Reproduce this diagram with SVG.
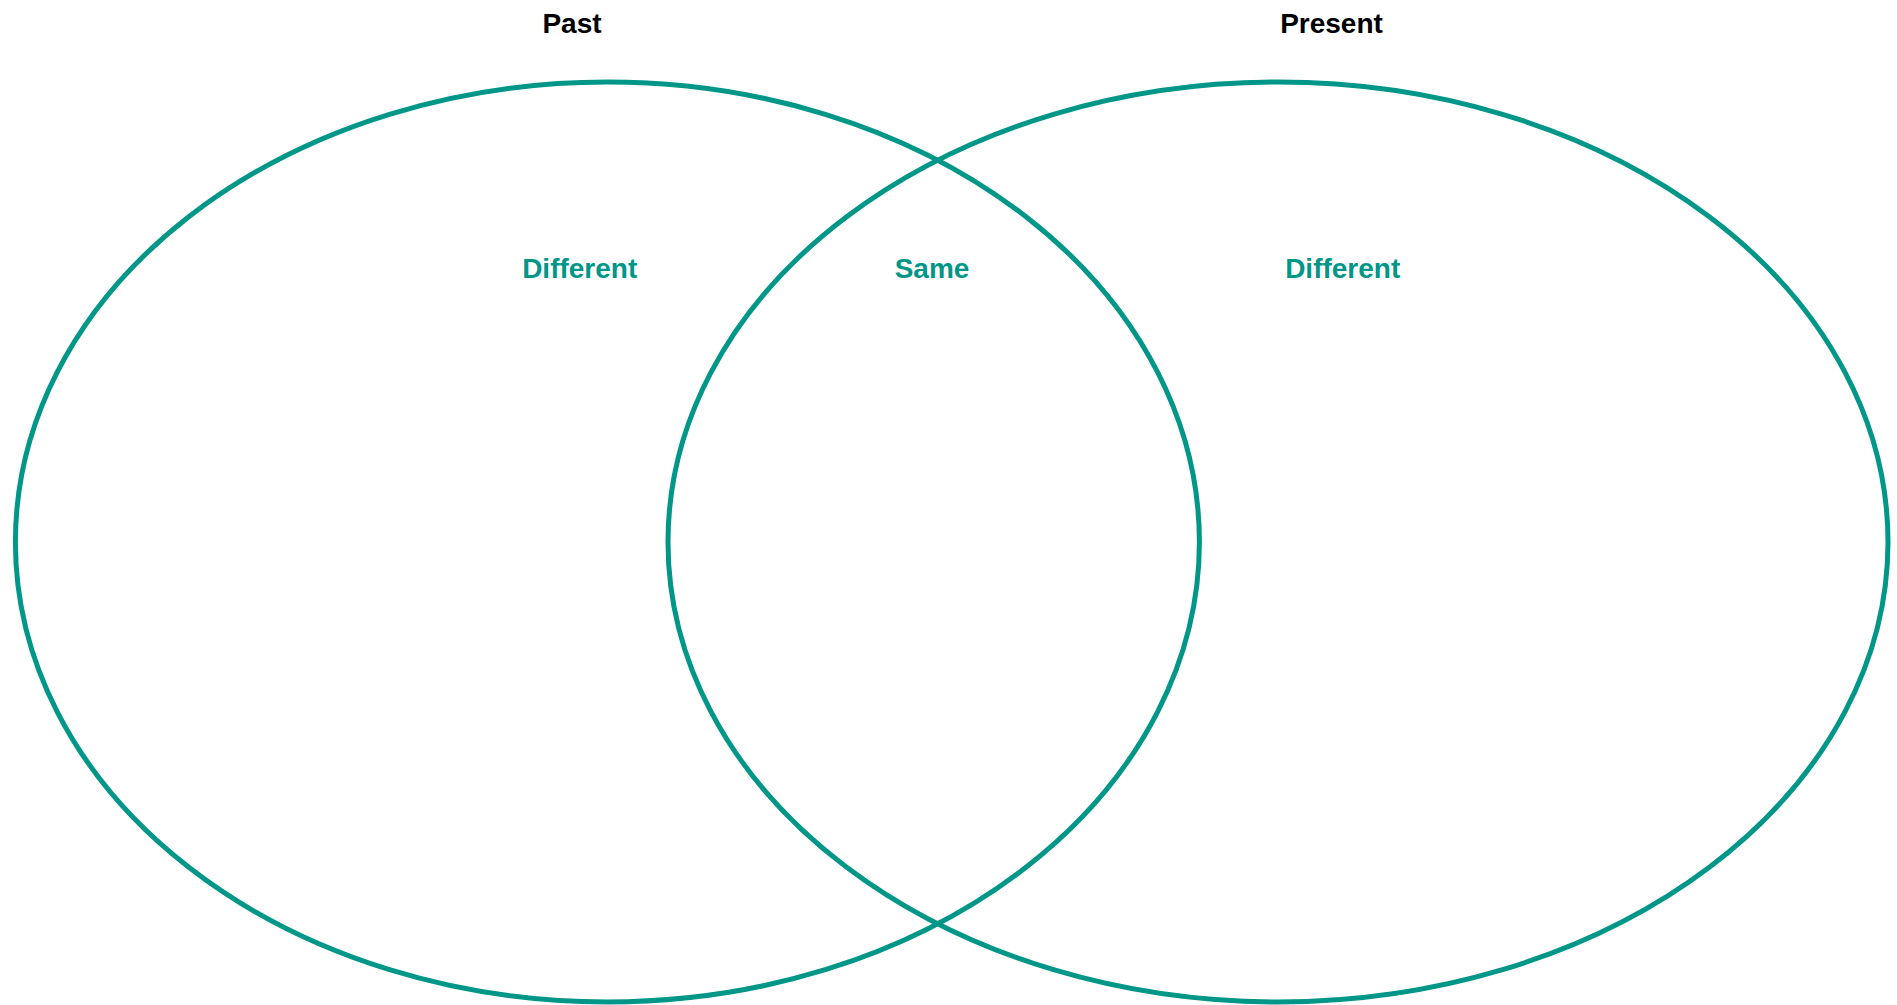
<svg xmlns="http://www.w3.org/2000/svg" width="1897" height="1005" viewBox="0 0 1897 1005">
<style>
.ring{fill:none;stroke:#009688;stroke-width:5}
.title{font-family:"Liberation Sans",Arial,sans-serif;font-weight:bold;font-size:28px;fill:#000;text-anchor:middle}
.label{font-family:"Liberation Sans",Arial,sans-serif;font-weight:bold;font-size:28px;fill:#009688;text-anchor:middle}
</style>
<rect width="1897" height="1005" fill="#fff"/>
<g id="past">
<ellipse class="ring" cx="607.4" cy="542" rx="592" ry="460"/>
<text class="title" x="572" y="33">Past</text>
<text class="label" x="579.7" y="278">Different</text>
</g>
<g id="present">
<ellipse class="ring" cx="1278" cy="542" rx="610" ry="460"/>
<text class="title" x="1331.5" y="33">Present</text>
<text class="label" x="1342.7" y="278">Different</text>
</g>
<g id="same">
<text class="label" x="932" y="278">Same</text>
</g>
<g id="connectors"/>
</svg>
